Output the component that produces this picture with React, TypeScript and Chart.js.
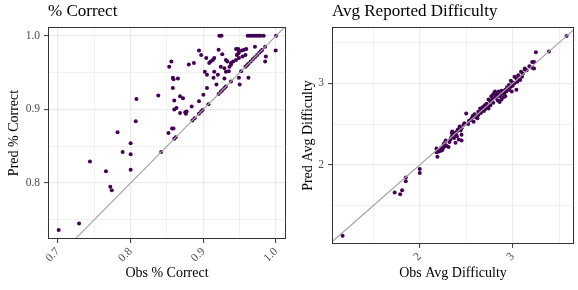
import React, { useEffect, useRef } from "react";
import { Chart, registerables } from "chart.js";
Chart.register(...registerables);

const FONT = "'Liberation Serif', 'Times New Roman', serif";
const POINT_COLOR = "#440154";
const LINE_COLOR = "#a6a6a6";
const GRID_COLOR = "#ebebeb";

// ---------- Left panel: % Correct ----------
const correctTitle = "% Correct";
const correctXLabel = "Obs % Correct";
const correctYLabel = "Pred % Correct";
const correctObs = [
  0.922, 0.925, 0.961, 0.964, 0.967, 0.970, 0.973, 0.976, 0.979, 0.983,
  0.9995, 0.971, 0.945, 0.948, 0.921, 0.894, 0.897, 0.926, 0.953, 0.956,
  0.959, 0.949, 0.946, 0.948, 0.904, 0.910, 0.913, 0.915, 0.931, 0.933,
  0.938, 0.941, 0.945, 0.949, 0.954, 0.958, 0.936, 0.938, 0.929, 0.924,
  0.908, 0.931, 0.935, 0.915, 0.902, 0.905, 0.914, 0.920, 0.929, 0.949,
  0.962, 0.856, 0.853, 0.880, 0.887, 0.858, 0.859, 0.865, 0.986, 0.985,
  0.950, 0.918, 0.905, 0.900, 0.894, 0.884, 0.858, 0.860, 0.868, 0.872,
  0.860, 0.863, 0.868, 0.875, 0.877, 0.876, 0.857, 0.859, 0.852, 0.807,
  0.808, 0.838, 0.782, 0.800, 0.789, 0.800, 0.744, 0.766, 0.800, 0.772,
  0.774, 0.729, 0.701,
];
const correctPred = [
  1.0, 1.0, 1.0, 1.0, 1.0, 1.0, 1.0, 1.0, 1.0, 1.0,
  0.980, 0.985, 0.982, 0.982, 0.981, 0.980, 0.974, 0.975, 0.980, 0.981,
  0.982, 0.978, 0.974, 0.976, 0.970, 0.965, 0.967, 0.970, 0.967, 0.965,
  0.963, 0.965, 0.967, 0.970, 0.972, 0.974, 0.958, 0.961, 0.956, 0.958,
  0.963, 0.951, 0.952, 0.951, 0.951, 0.947, 0.943, 0.947, 0.942, 0.943,
  0.943, 0.965, 0.958, 0.961, 0.963, 0.943, 0.941, 0.942, 0.972, 0.965,
  0.934, 0.934, 0.929, 0.920, 0.911, 0.904, 0.929, 0.912, 0.918, 0.915,
  0.900, 0.902, 0.895, 0.896, 0.897, 0.894, 0.874, 0.874, 0.868, 0.884,
  0.914, 0.919, 0.869, 0.854, 0.842, 0.839, 0.829, 0.816, 0.818, 0.795,
  0.790, 0.745, 0.736,
];
// cases where predicted equals observed (they sit on the diagonal)
const correctExact = [
  0.842, 0.860, 0.862, 0.885, 0.888, 0.894, 0.897, 0.899, 0.907, 0.921,
  0.924, 0.926, 0.929, 0.931, 0.938, 0.952, 0.958, 0.960, 0.962, 0.965,
  0.968, 0.971, 0.974, 0.977, 0.979, 0.981, 0.985, 1.0,
];
const correctXRange = [0.6863, 1.0137];
const correctYRange = [0.7238, 1.012];
const correctXTicks = [0.7, 0.75, 0.8, 0.85, 0.9, 0.95, 1.0];
const correctYTicks = [0.75, 0.8, 0.85, 0.9, 0.95, 1.0];
const correctMajor = [0.7, 0.8, 0.9, 1.0];
const correctLabels = ["0.7", "0.8", "0.9", "1.0"];

// ---------- Right panel: Avg Reported Difficulty ----------
const diffTitle = "Avg Reported Difficulty";
const diffXLabel = "Obs Avg Difficulty";
const diffYLabel = "Pred Avg Difficulty";
const diffObs = [
  1.17, 1.73, 1.79, 1.81, 1.85, 1.85, 2.0, 2.0, 2.18, 2.19,
  2.20, 2.22, 2.24, 2.27, 2.31, 2.18, 2.20, 2.255, 2.27, 2.29,
  2.345, 2.35, 2.38, 2.40, 2.42, 2.45, 2.385, 2.33, 2.36, 2.40,
  2.41, 2.43, 2.45, 2.47, 2.48, 2.35, 2.45, 2.50, 2.55, 2.56,
  2.58, 2.60, 2.62, 2.63, 2.63, 2.65, 2.67, 2.68, 2.70, 2.70,
  2.72, 2.74, 2.76, 2.77, 2.79, 2.81, 2.81, 2.82, 2.82, 2.84,
  2.86, 2.86, 2.88, 2.88, 2.90, 2.90, 2.92, 2.92, 2.94, 2.96,
  2.96, 2.98, 2.98, 2.99, 3.00, 3.02, 3.04, 3.04, 3.06, 3.08,
  3.09, 3.13, 3.13, 3.15, 3.18, 3.21, 3.21, 3.23, 3.23, 3.25,
  2.74, 2.76, 2.78, 2.79, 2.80, 2.83, 2.84, 2.85, 2.87, 2.89,
  2.91, 2.93, 2.95, 2.97, 3.00, 3.02, 3.05, 3.07, 3.10, 3.11,
  2.52, 2.53, 2.57, 2.59, 2.61, 2.64, 2.66, 2.69, 2.71, 2.73,
  2.44, 2.42, 2.39, 2.37, 2.34, 2.32, 2.28, 2.26, 2.25, 2.23,
];
const diffPred = [
  1.13, 1.66, 1.64, 1.69, 1.845, 1.80, 1.95, 1.90, 2.20, 2.10,
  2.16, 2.17, 2.18, 2.23, 2.22, 2.155, 2.18, 2.245, 2.27, 2.23,
  2.39, 2.355, 2.39, 2.35, 2.31, 2.30, 2.27, 2.31, 2.37, 2.41,
  2.43, 2.47, 2.45, 2.49, 2.51, 2.41, 2.37, 2.63, 2.55, 2.57,
  2.53, 2.59, 2.57, 2.61, 2.65, 2.69, 2.67, 2.71, 2.73, 2.68,
  2.75, 2.69, 2.73, 2.84, 2.86, 2.90, 2.83, 2.88, 2.82, 2.86,
  2.84, 2.77, 2.80, 2.91, 2.90, 2.83, 2.92, 2.84, 2.95, 2.98,
  2.92, 2.96, 3.03, 2.90, 3.01, 3.08, 3.06, 2.92, 3.10, 3.04,
  3.14, 3.17, 3.18, 3.16, 3.21, 3.19, 3.26, 3.26, 3.18, 3.38,
  2.80, 2.78, 2.80, 2.76, 2.88, 2.85, 2.79, 2.90, 2.86, 2.88,
  2.87, 2.90, 2.93, 2.95, 2.97, 3.00, 3.02, 3.05, 3.08, 3.12,
  2.50, 2.54, 2.60, 2.62, 2.58, 2.63, 2.64, 2.66, 2.70, 2.72,
  2.42, 2.44, 2.37, 2.33, 2.34, 2.28, 2.30, 2.26, 2.20, 2.21,
];
const diffExact = [3.39, 3.58];
const diffXRange = [1.056, 3.66];
const diffYRange = [1.03, 3.69];
const diffTicks = [1.5, 2, 2.5, 3, 3.5];
const diffMajor = [2, 3];
const diffLabels = ["2", "3"];

type PanelSpec = {
  title: string;
  xLabel: string;
  yLabel: string;
  obs: number[];
  pred: number[];
  exact: number[];
  xRange: number[];
  yRange: number[];
  xTicks: number[];
  yTicks: number[];
  major: number[];
  labels: string[];
  yAxisWidth: number;
  xAxisHeight: number;
  yTitlePad: number;
  padRight: number;
};

const isIn = (v: number, arr: number[]) => arr.some((a) => Math.abs(a - v) < 1e-9);
const labelFor = (v: number, major: number[], labels: string[]) => {
  const i = major.findIndex((a) => Math.abs(a - v) < 1e-9);
  return i >= 0 ? labels[i] : "";
};

function buildConfig(p: PanelSpec): any {
  const decor = {
    id: "decor",
    afterDatasetsDraw(chart: any) {
      const { ctx, chartArea } = chart;
      ctx.save();
      ctx.strokeStyle = "#333333";
      ctx.lineWidth = 1;
      ctx.strokeRect(
        Math.round(chartArea.left) + 0.5,
        Math.round(chartArea.top) + 0.5,
        Math.round(chartArea.right - chartArea.left) - 1,
        Math.round(chartArea.bottom - chartArea.top) - 1
      );
      ctx.restore();
    },
    afterDraw(chart: any) {
      const { ctx, chartArea } = chart;
      ctx.save();
      ctx.fillStyle = "#000000";
      ctx.font = `17px ${FONT}`;
      ctx.textAlign = "left";
      ctx.textBaseline = "alphabetic";
      ctx.fillText(p.title, chartArea.left, 16);
      ctx.restore();
    },
  };
  const lo = Math.min(p.xRange[0], p.yRange[0]) - 1;
  const hi = Math.max(p.xRange[1], p.yRange[1]) + 1;
  const gridOpts = {
    color: GRID_COLOR,
    lineWidth: (c: any) => (c.tick && isIn(c.tick.value, p.major) ? 1.2 : 0.7),
    drawTicks: true,
    tickLength: 4,
    tickWidth: 1,
    tickColor: (c: any) => (c.tick && isIn(c.tick.value, p.major) ? "#333333" : "rgba(0,0,0,0)"),
  };
  return {
    type: "scatter",
    data: {
      datasets: [
        {
          data: [
            { x: lo, y: lo },
            { x: hi, y: hi },
          ],
          showLine: true,
          borderColor: LINE_COLOR,
          borderWidth: 1.2,
          pointRadius: 0,
          order: 0,
        },
        {
          data: p.obs.map((o, i) => ({ x: o, y: p.pred[i] })),
          backgroundColor: POINT_COLOR,
          borderWidth: 0,
          pointRadius: 2,
          order: 1,
        },
        {
          data: p.exact.map((v) => ({ x: v, y: v })),
          backgroundColor: POINT_COLOR,
          borderWidth: 0,
          pointRadius: 2,
          order: 1,
        },
      ],
    },
    options: {
      responsive: false,
      animation: false,
      events: [],
      layout: { padding: { top: 27, right: p.padRight, bottom: 0, left: 0 } },
      plugins: { legend: { display: false }, tooltip: { enabled: false }, title: { display: false } },
      scales: {
        x: {
          type: "linear",
          min: p.xRange[0],
          max: p.xRange[1],
          afterBuildTicks: (s: any) => {
            s.ticks = p.xTicks.map((v) => ({ value: v }));
          },
          afterFit: (s: any) => {
            s.height = p.xAxisHeight;
          },
          grid: gridOpts,
          border: { display: false },
          ticks: {
            autoSkip: false,
            minRotation: 45,
            maxRotation: 45,
            padding: 2,
            color: "#4d4d4d",
            font: { family: FONT, size: 11.5 },
            callback: (v: any) => labelFor(Number(v), p.major, p.labels),
          },
          title: {
            display: true,
            text: p.xLabel,
            color: "#000000",
            font: { family: FONT, size: 14 },
            padding: { top: 0, bottom: 8 },
          },
        },
        y: {
          type: "linear",
          min: p.yRange[0],
          max: p.yRange[1],
          afterBuildTicks: (s: any) => {
            s.ticks = p.yTicks.map((v) => ({ value: v }));
          },
          afterFit: (s: any) => {
            s.width = p.yAxisWidth;
          },
          grid: gridOpts,
          border: { display: false },
          ticks: {
            autoSkip: false,
            padding: 4,
            color: "#4d4d4d",
            font: { family: FONT, size: 11.5 },
            callback: (v: any) => labelFor(Number(v), p.major, p.labels),
          },
          title: {
            display: true,
            text: p.yLabel,
            color: "#000000",
            font: { family: FONT, size: 14 },
            padding: { top: p.yTitlePad, bottom: 0 },
          },
        },
      },
    },
    plugins: [decor],
  };
}

function Panel({ spec, left, width }: { spec: PanelSpec; left: number; width: number }) {
  const ref = useRef<HTMLCanvasElement | null>(null);
  useEffect(() => {
    if (!ref.current) return;
    const chart = new Chart(ref.current, buildConfig(spec));
    return () => chart.destroy();
  }, []);
  return (
    <canvas
      ref={ref}
      width={width}
      height={290}
      style={{ position: "absolute", left, top: 0, width, height: 290, display: "block" }}
    />
  );
}

const leftSpec: PanelSpec = {
  title: correctTitle,
  xLabel: correctXLabel,
  yLabel: correctYLabel,
  obs: correctObs,
  pred: correctPred,
  exact: correctExact,
  xRange: correctXRange,
  yRange: correctYRange,
  xTicks: correctXTicks,
  yTicks: correctYTicks,
  major: correctMajor,
  labels: correctLabels,
  yAxisWidth: 48,
  xAxisHeight: 51,
  yTitlePad: 6,
  padRight: 3,
};

const rightSpec: PanelSpec = {
  title: diffTitle,
  xLabel: diffXLabel,
  yLabel: diffYLabel,
  obs: diffObs,
  pred: diffPred,
  exact: diffExact,
  xRange: diffXRange,
  yRange: diffYRange,
  xTicks: diffTicks,
  yTicks: diffTicks,
  major: diffMajor,
  labels: diffLabels,
  yAxisWidth: 42,
  xAxisHeight: 46,
  yTitlePad: 10,
  padRight: 1,
};

export default function App() {
  return (
    <div style={{ position: "fixed", left: 0, top: 0, width: 578, height: 290, background: "#ffffff", overflow: "hidden" }}>
      <Panel spec={leftSpec} left={0} width={290} />
      <Panel spec={rightSpec} left={290} width={288} />
    </div>
  );
}
